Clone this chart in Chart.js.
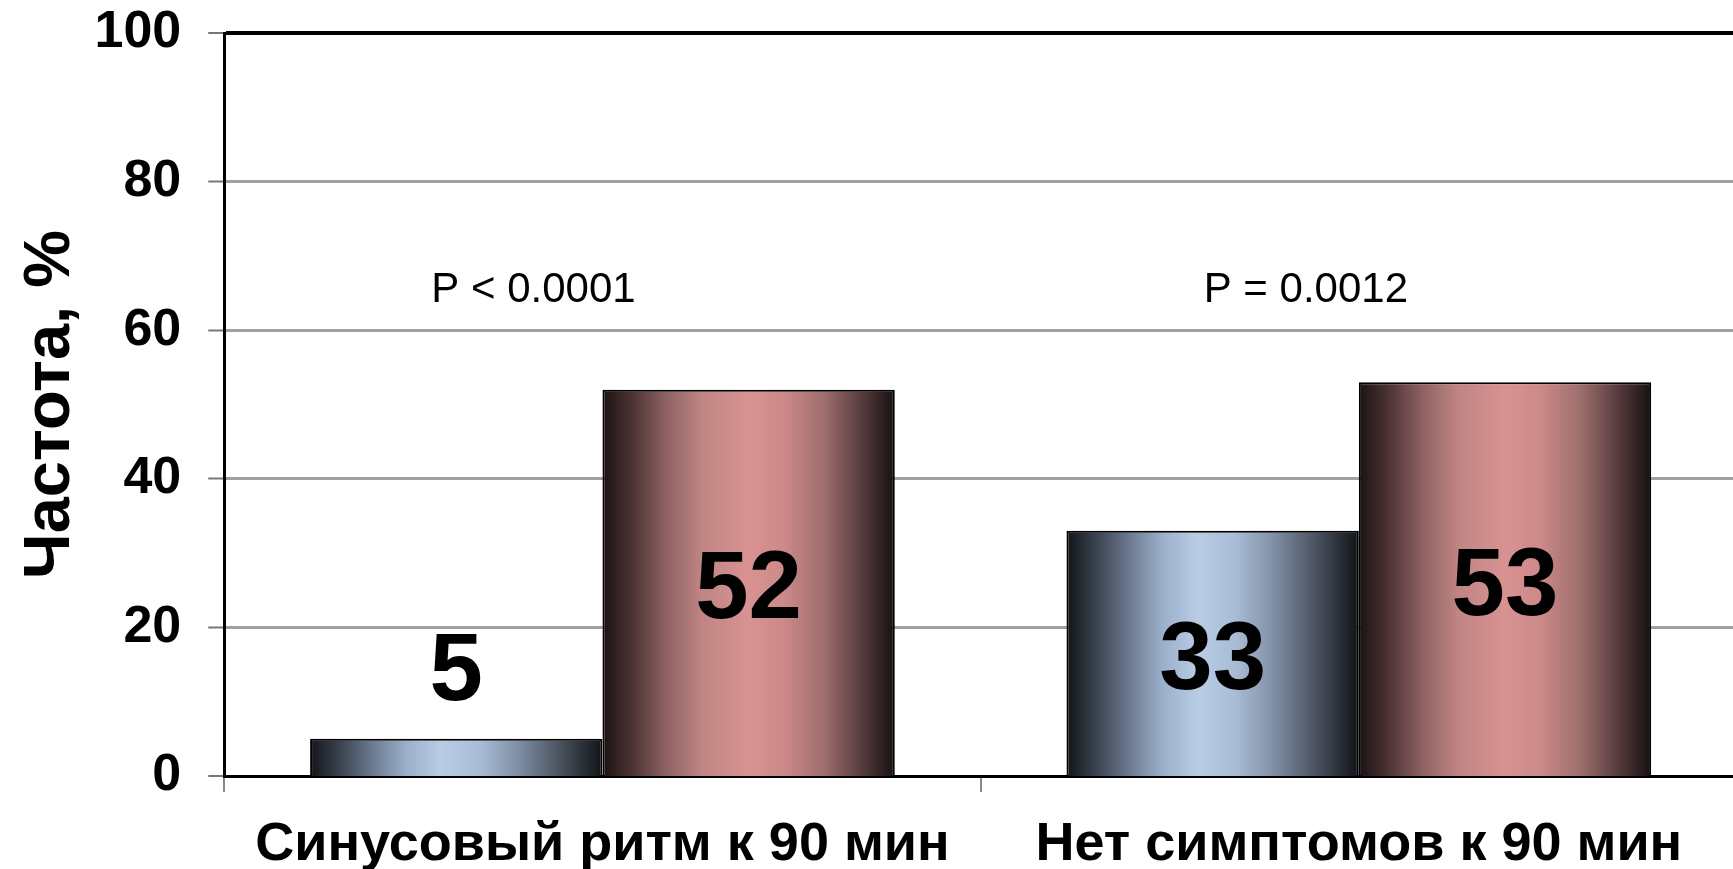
<!DOCTYPE html>
<html lang="ru">
<head>
<meta charset="utf-8">
<title>Частота, %</title>
<script src="https://cdn.jsdelivr.net/npm/chart.js@4.4.1/dist/chart.umd.min.js"></script>
<style>
  html, body { margin: 0; padding: 0; background: #fff; overflow: hidden; }
  #wrap { position: relative; width: 1740px; height: 869px; }
</style>
</head>
<body>
<div id="wrap"><canvas id="chart"></canvas></div>
<script>
// Categories along the x axis
const categories = ['Синусовый ритм к 90 мин', 'Нет симптомов к 90 мин'];
// Frequencies, % (blue = first group, pink = second group)
const seriesBlue = [5, 33];
const seriesPink = [52, 53];
// Significance notes above each category
const pValues = ['P < 0.0001', 'P = 0.0012'];
// Y axis ticks
const yTicks = [0, 20, 40, 60, 80, 100];

const FONT = '"Liberation Sans", Arial, Helvetica, sans-serif';

const blueStops = [
  [0.00, '#121418'], [0.10, '#3a424e'], [0.22, '#6e7d93'], [0.33, '#9cb0cb'],
  [0.45, '#b8cce4'], [0.58, '#a9bcd6'], [0.72, '#7c8ba1'], [0.86, '#48505c'], [1.00, '#111317']
];
const pinkStops = [
  [0.00, '#1a1213'], [0.10, '#4c3334'], [0.22, '#8e6263'], [0.34, '#c08584'],
  [0.50, '#d99292'], [0.62, '#cc8a89'], [0.76, '#9c6e6c'], [0.88, '#5a3e40'], [1.00, '#161011']
];

// Horizontal "cylinder" shading for each bar, built from the bar's own geometry
const barShading = {
  id: 'barShading',
  beforeDatasetsDraw(chart) {
    const ctx = chart.ctx;
    chart.data.datasets.forEach((ds, di) => {
      const stops = di === 0 ? blueStops : pinkStops;
      chart.getDatasetMeta(di).data.forEach(el => {
        const p = el.getProps(['x', 'width'], true);
        const g = ctx.createLinearGradient(p.x - p.width / 2, 0, p.x + p.width / 2, 0);
        stops.forEach(s => g.addColorStop(s[0], s[1]));
        el.options = Object.assign({}, el.options, { backgroundColor: g });
      });
    });
  }
};

// Value labels inside tall bars, above short ones, plus the P-value notes
const barLabels = {
  id: 'barLabels',
  afterDatasetsDraw(chart) {
    const ctx = chart.ctx;
    ctx.save();
    ctx.fillStyle = '#000';
    ctx.textAlign = 'center';
    ctx.textBaseline = 'middle';
    ctx.font = 'bold 96px ' + FONT;
    chart.data.datasets.forEach((ds, di) => {
      chart.getDatasetMeta(di).data.forEach((el, i) => {
        const p = el.getProps(['x', 'y', 'base'], true);
        const h = p.base - p.y;
        const y = h > 110 ? (p.y + p.base) / 2 + 9 : p.y - 65;
        ctx.fillText(String(ds.data[i]), p.x, y);
      });
    });
    ctx.font = '42px ' + FONT;
    const xs = chart.scales.x, ys = chart.scales.y;
    const shift = [-69, -53];
    pValues.forEach((t, i) => {
      ctx.fillText(t, xs.getPixelForValue(i) + shift[i], ys.getPixelForValue(65.3));
    });
    ctx.restore();
  }
};

new Chart(document.getElementById('chart'), {
  type: 'bar',
  data: {
    labels: categories,
    datasets: [
      { label: 'Группа 1', data: seriesBlue, borderColor: '#000', borderWidth: 2,
        backgroundColor: () => '#b8cce4', borderSkipped: 'bottom' },
      { label: 'Группа 2', data: seriesPink, borderColor: '#000', borderWidth: 2,
        backgroundColor: () => '#d99292', borderSkipped: 'bottom' }
    ]
  },
  options: {
    responsive: true,
    maintainAspectRatio: false,
    animation: false,
    events: [],
    layout: { padding: { top: 33, right: 3, left: 0, bottom: 0 } },
    datasets: { bar: { barPercentage: 1, categoryPercentage: 0.773 } },
    plugins: { legend: { display: false }, tooltip: { enabled: false } },
    scales: {
      x: {
        type: 'category',
        offset: true,
        afterFit(s) { s.height = 93; s.paddingLeft = 0; s.paddingRight = 0; },
        grid: { offset: true, drawOnChartArea: false, drawTicks: true, tickLength: 16,
                color: '#888', lineWidth: 2 },
        border: { display: true, color: '#000', width: 3 },
        ticks: { color: '#000', padding: 25, font: { family: FONT, size: 54, weight: 'bold', lineHeight: 1.05 },
                 maxRotation: 0, autoSkip: false }
      },
      y: {
        min: 0, max: 100,
        afterBuildTicks(axis) { axis.ticks = yTicks.map(v => ({ value: v })); },
        afterFit(s) { s.paddingTop = 0; s.paddingBottom = 0; },
        grid: {
          color: c => (c.tick && c.tick.value === 100) ? '#000' : '#a0a0a0',
          lineWidth: c => (c.tick && c.tick.value === 100) ? 4 : (c.tick && c.tick.value === 0 ? 0 : 3),
          drawTicks: true, tickLength: 16, tickColor: '#777', tickWidth: 2
        },
        border: { display: true, color: '#000', width: 3 },
        ticks: { color: '#000', padding: 27, font: { family: FONT, size: 52, weight: 'bold' } },
        title: { display: true, text: 'Частота, %', color: '#000',
                 font: { family: FONT, size: 65, weight: 'bold', lineHeight: 0.5 },
                 padding: { top: 35, bottom: 0 } }
      }
    }
  },
  plugins: [barShading, barLabels]
});
</script>
</body>
</html>
